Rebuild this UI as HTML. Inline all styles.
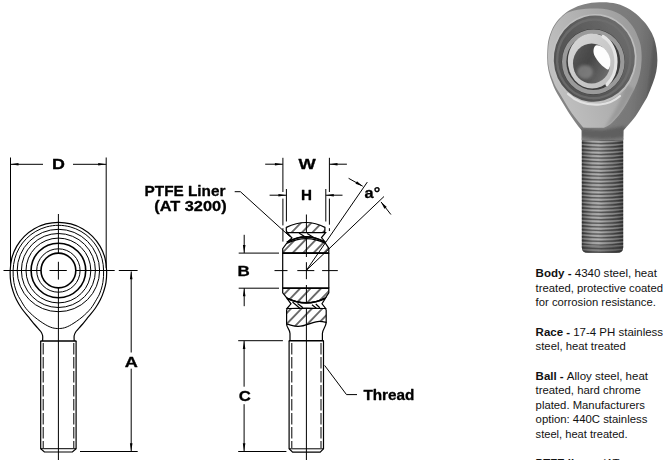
<!DOCTYPE html>
<html lang="en">
<head>
<meta charset="utf-8">
<title>Rod End Dimensions</title>
<style>
html,body{margin:0;padding:0;background:#fff;}
body{width:668px;height:460px;overflow:hidden;position:relative;font-family:"Liberation Sans",sans-serif;}
svg{position:absolute;left:0;top:0;display:block;}
.lbl{font-family:"Liberation Sans",sans-serif;font-weight:bold;font-size:14px;fill:#000;stroke:#000;stroke-width:0.3;stroke-linejoin:round;}
.spec{font-family:"Liberation Sans",sans-serif;font-size:11.4px;fill:#111;}
.spec .b{font-weight:bold;}
.t{stroke:#000;stroke-width:1;fill:none;}
.k{stroke:#000;stroke-width:1.6;fill:none;}
.m{stroke:#000;stroke-width:1.2;fill:none;}
.ar{fill:#000;stroke:none;}
.h{stroke:#000;stroke-width:0.9;fill:none;}
</style>
</head>
<body>
<svg width="668" height="460" viewBox="0 0 668 460">
<defs>
<filter id="soft" x="-5%" y="-5%" width="110%" height="110%"><feGaussianBlur stdDeviation="0.3"/></filter>
<pattern id="hat" patternUnits="userSpaceOnUse" width="7.5" height="7.5" patternTransform="rotate(-46)">
<line x1="0" y1="3.75" x2="7.5" y2="3.75" stroke="#000" stroke-width="1.1"/>
</pattern>
<pattern id="hat2" patternUnits="userSpaceOnUse" width="7" height="7" patternTransform="rotate(38)">
<line x1="0" y1="3.5" x2="7" y2="3.5" stroke="#000" stroke-width="0.9"/>
</pattern>
</defs>

<!-- ================= LEFT VIEW ================= -->
<g id="leftview" filter="url(#soft)">
<!-- D dimension -->
<path class="t" d="M10.5 157.5V268M106.2 157.5V268"/>
<path class="t" d="M10.5 164.3H43M73 164.3H106.2"/>
<path class="ar" d="M10.5 164.3l8-1.3v2.6zM106.2 164.3l-8-1.3v2.6z"/>
<!-- centre lines -->
<path class="t" d="M3.5 270.5H41M49.5 270.5H66.8M75.8 270.5H114.7M118.8 270.5H137.6"/>
<path class="t" d="M58.4 214V253M58.4 261.8V279.6M58.4 288V460"/>
<!-- circles -->
<circle class="k" cx="58.4" cy="270.5" r="17.4"/>
<circle class="t" cx="58.4" cy="270.5" r="21.7"/>
<circle class="k" cx="58.4" cy="270.5" r="27.3"/>
<circle class="t" cx="58.4" cy="270.5" r="32.4"/>
<circle class="t" cx="58.4" cy="270.5" r="37"/>
<circle class="t" cx="58.4" cy="270.5" r="41.2"/>
<!-- inner teardrop contour -->
<path class="t" d="M58.40 328.60C57.40 328.47 54.60 328.48 52.40 327.80C50.20 327.12 48.13 326.27 45.20 324.50C42.27 322.73 38.00 319.87 34.80 317.20C31.60 314.53 28.38 311.40 26.00 308.50C23.62 305.60 22.02 302.38 20.50 299.80C18.98 297.22 18.00 295.90 16.90 293.00C15.80 290.10 14.53 286.15 13.90 282.40C13.27 278.65 12.96 274.43 13.10 270.50C13.24 266.57 13.71 262.57 14.74 258.80C15.77 255.03 17.31 251.28 19.26 247.90C21.21 244.52 23.68 241.30 26.44 238.54C29.20 235.78 32.42 233.31 35.80 231.36C39.18 229.41 42.93 227.85 46.70 226.84C50.47 225.83 54.50 225.30 58.40 225.30C62.30 225.30 66.33 225.83 70.10 226.84C73.87 227.85 77.62 229.41 81.00 231.36C84.38 233.31 87.60 235.78 90.36 238.54C93.12 241.30 95.59 244.52 97.54 247.90C99.49 251.28 101.05 255.03 102.06 258.80C103.07 262.57 103.46 266.57 103.60 270.50C103.74 274.43 103.52 278.65 102.90 282.40C102.28 286.15 101.00 290.10 99.90 293.00C98.80 295.90 97.82 297.22 96.30 299.80C94.78 302.38 93.18 305.60 90.80 308.50C88.42 311.40 85.20 314.53 82.00 317.20C78.80 319.87 74.53 322.73 71.60 324.50C68.67 326.27 66.60 327.12 64.40 327.80C62.20 328.48 59.40 328.47 58.40 328.60Z"/>
<!-- outer contour -->
<path class="m" d="M42.60 341.00C42.60 340.08 42.90 337.08 42.60 335.50C42.30 333.92 41.98 333.17 40.80 331.50C39.62 329.83 37.52 327.88 35.50 325.50C33.48 323.12 31.00 320.03 28.70 317.20C26.40 314.37 23.73 311.40 21.70 308.50C19.67 305.60 17.95 302.70 16.50 299.80C15.05 296.90 13.95 294.00 13.00 291.10C12.05 288.20 11.27 285.83 10.80 282.40C10.33 278.97 10.03 274.56 10.20 270.50C10.37 266.44 10.77 262.04 11.84 258.02C12.92 254.01 14.58 250.00 16.66 246.40C18.74 242.80 21.38 239.36 24.32 236.42C27.26 233.48 30.70 230.84 34.30 228.76C37.90 226.68 41.91 225.02 45.92 223.94C49.94 222.87 54.24 222.30 58.40 222.30C62.56 222.30 66.86 222.87 70.88 223.94C74.89 225.02 78.90 226.68 82.50 228.76C86.10 230.84 89.54 233.48 92.48 236.42C95.42 239.36 98.06 242.80 100.14 246.40C102.22 250.00 103.88 254.01 104.96 258.02C106.03 262.04 106.43 266.44 106.60 270.50C106.77 274.56 106.47 278.97 106.00 282.40C105.53 285.83 104.75 288.20 103.80 291.10C102.85 294.00 101.75 296.90 100.30 299.80C98.85 302.70 97.13 305.60 95.10 308.50C93.07 311.40 90.40 314.37 88.10 317.20C85.80 320.03 83.32 323.12 81.30 325.50C79.28 327.88 77.18 329.83 76.00 331.50C74.82 333.17 74.50 333.92 74.20 335.50C73.90 337.08 74.20 340.08 74.20 341.00"/>
<!-- shank -->
<path class="k" d="M40.4 341H76.4"/>
<path class="m" d="M40.7 341V448.7L44.4 452H72.4L76.1 448.7V341"/>
<path class="t" d="M40.7 448.7H76.1"/>
<path class="t" d="M43.2 343V448M73.8 343V448" stroke-dasharray="11.5 2.5"/>
<!-- A dimension -->
<path class="t" d="M80 451.5H137.7"/>
<path class="t" d="M131.2 271.5V352.5M131.2 368.7V451"/>
<path class="ar" d="M131.2 271.2l-1.3 8h2.6zM131.2 451.3l-1.3-8h2.6z"/>
</g>

<!-- ================= SECTION VIEW ================= -->
<g id="section" filter="url(#soft)">
<!-- W / H extension lines -->
<path class="t" d="M282.9 157.8V192M282.9 198.6V225.4M282.9 228.2V241.6M329.4 157.8V192M329.4 198.6V224.7M329.4 228.2V231"/>
<path class="t" d="M286.4 189V221.5M325.8 189V221.5"/>
<path class="t" d="M265.2 164.2H282.9M329.5 164.2H346.9"/>
<path class="ar" d="M282.9 164.2l-8-1.3v2.6zM329.5 164.2l8-1.3v2.6z"/>
<path class="t" d="M269.6 195.2H286.4M325.8 195.2H342.5"/>
<path class="ar" d="M286.4 195.2l-8-1.3v2.6zM325.8 195.2l8-1.3v2.6z"/>
<!-- centre lines -->
<path class="t" d="M306.4 214.5V257M306.4 262.2V279.2M306.4 285V460"/>
<path class="t" d="M274.5 270.6H287.5M297.3 270.6H314.3M322.1 270.6H337.8"/>
<!-- angle lines -->
<path class="t" d="M306.4 270.3L367.3 182.1M306.4 270.3L384 196.5"/>
<path class="t" d="M348.6 178.3L362.7 186.2M390.9 214.5L381 201.9"/>
<path class="ar" d="M362.7 186.2L355.5 183.8L357 181.2ZM381 201.9L386.8 206.9L384.4 208.8Z"/>
<!-- B dimension -->
<path class="t" d="M238.7 253.1H279M238.7 288.2H279"/>
<path class="t" d="M244.2 234.8V253.1M244.2 288.2V306.2"/>
<path class="ar" d="M244.2 253.1l-1.3-8h2.6zM244.2 288.2l-1.3 8h2.6z"/>
<!-- PTFE leader -->
<path class="t" d="M234.7 191.7H240.4L289.8 236.5"/>
<!-- body top section -->
<path d="M286.3 227.4Q306.4 217.6 324.9 227.4V230.6Q324.9 232.6 323 232.6H288.2Q286.3 232.6 286.3 230.6Z" class="m" style="fill:url(#hat)"/>
<!-- race top -->
<path d="M287 232.6L292 238L286.8 242.4Q306.4 231.4 325.4 242.4L321.5 237.6L325.6 232.6Z" class="m" style="fill:#fff"/>
<path class="m" d="M299 233L305.7 237.2M307.2 233.4L314 237.7"/>
<path class="k" d="M286.8 242.4Q306.4 231.4 325.4 242.4"/>
<!-- ball -->
<path d="M282.7 253.1V248.6L286.6 243.5Q306.4 233.6 325.6 243.5L328.8 248.3V253.1Z" class="m" style="fill:url(#hat)"/>
<path d="M282.7 288.2V292.8L286.6 297.7Q306.4 307.8 325.6 297.7L328.8 292.8V288.2Z" class="m" style="fill:url(#hat)"/>
<path class="k" d="M282.7 253.1H328.8M282.7 288.2H328.8"/>
<path class="m" d="M282.7 253.1V288.2M328.8 253.1V288.2"/>
<!-- race bottom -->
<path d="M287 308.5L291 303.8L286.8 298.2Q306.4 307.6 325.4 298.2L322 303.8L325.6 308.5Z" class="m" style="fill:#fff"/>
<path class="k" d="M286.8 298.2Q306.4 307.6 325.4 298.2"/>
<path class="m" d="M292.5 302L299.8 308.2M297.5 303.5L303 307.8M312 304.8L316.4 308.3M315.8 304L319.8 307.8"/>
<!-- body lower section -->
<path d="M286.6 310.2Q286.6 308.5 288.5 308.5Q306.4 307.6 324.3 308.5Q326.2 308.5 326.2 310.2V322.4C322 321.4 319 321 316 321.8C309 323.6 304 326.6 298 326.4C293 326.2 290 324.6 286.6 324.2Z" class="m" style="fill:url(#hat)"/>
<!-- neck -->
<path class="m" d="M286.6 324.2C286.8 328 290 329.5 290 333.5V340.7M326.2 322.4C326 327 322.4 329.5 322.4 333.5V340.7"/>
<!-- shank -->
<path class="k" d="M288.8 340.7H323.8"/>
<path class="m" d="M289.1 340.7V448.8L292.6 452.1H320.2L323.5 448.8V340.7"/>
<path class="t" d="M289.1 448.8H323.5"/>
<path class="t" d="M291.8 343V448M321 343V448" stroke-dasharray="11.5 2.5"/>
<!-- C dimension -->
<path class="t" d="M238.2 340.7H282.9M238.2 451.5H286.4"/>
<path class="t" d="M244.1 341V386.7M244.1 404.2V451.3"/>
<path class="ar" d="M244.1 340.9l-1.3 8h2.6zM244.1 451.3l-1.3-8h2.6z"/>
<!-- Thread leader -->
<path class="t" d="M324.6 365.4L346.5 394.6H357"/>
</g>

<!-- ================= LABELS ================= -->
<g id="labels" filter="url(#soft)">
<text class="lbl" x="52.12" y="168.9" textLength="12.91" lengthAdjust="spacingAndGlyphs">D</text>
<text class="lbl" x="124.74" y="366.9" textLength="13.12" lengthAdjust="spacingAndGlyphs">A</text>
<text class="lbl" x="298.58" y="169.2" textLength="17.22" lengthAdjust="spacingAndGlyphs">W</text>
<text class="lbl" x="301.00" y="199.9" textLength="11.00" lengthAdjust="spacingAndGlyphs">H</text>
<text class="lbl" x="237.6" y="275.5" textLength="12.3" lengthAdjust="spacingAndGlyphs">B</text>
<text class="lbl" x="238.76" y="400.9" textLength="12.05" lengthAdjust="spacingAndGlyphs">C</text>
<text class="lbl" x="364.6" y="198.4" textLength="15.6" lengthAdjust="spacingAndGlyphs" style="font-size:14.8px">a°</text>
<text class="lbl" x="144.60" y="195.6" textLength="80.80" lengthAdjust="spacingAndGlyphs">PTFE Liner</text>
<text class="lbl" x="154.20" y="210.7" textLength="72.42" lengthAdjust="spacingAndGlyphs">(AT 3200)</text>
<text class="lbl" x="363.40" y="399.9" textLength="51.02" lengthAdjust="spacingAndGlyphs">Thread</text>
</g>

<!-- ================= SPEC TEXT ================= -->
<g id="spec" class="spec">
<text x="535.6" y="277.2" textLength="121.3" lengthAdjust="spacingAndGlyphs"><tspan class="b">Body - </tspan>4340 steel, heat</text>
<text x="535.6" y="291.5" textLength="127.4" lengthAdjust="spacingAndGlyphs">treated, protective coated</text>
<text x="535.6" y="305.8" textLength="120.3" lengthAdjust="spacingAndGlyphs">for corrosion resistance.</text>
<text x="535.6" y="335.7" textLength="127.5" lengthAdjust="spacingAndGlyphs"><tspan class="b">Race - </tspan>17-4 PH stainless</text>
<text x="535.6" y="349.7" textLength="90.3" lengthAdjust="spacingAndGlyphs">steel, heat treated</text>
<text x="535.6" y="379.9" textLength="112.4" lengthAdjust="spacingAndGlyphs"><tspan class="b">Ball - </tspan>Alloy steel, heat</text>
<text x="535.6" y="394.2" textLength="105.2" lengthAdjust="spacingAndGlyphs">treated, hard chrome</text>
<text x="535.6" y="408.6" textLength="109.3" lengthAdjust="spacingAndGlyphs">plated. Manufacturers</text>
<text x="535.6" y="423" textLength="111.8" lengthAdjust="spacingAndGlyphs">option: 440C stainless</text>
<text x="535.6" y="437.5" textLength="92.0" lengthAdjust="spacingAndGlyphs">steel, heat treated.</text>
<text x="535.6" y="467"><tspan class="b">PTFE liner - </tspan>(AT</text>
<text x="535.6" y="481.9">3200)</text>
</g>

<!-- ================= PHOTO ================= -->
<g id="photo">
<defs>
<filter id="pblur" x="-5%" y="-5%" width="110%" height="110%"><feGaussianBlur stdDeviation="0.6"/></filter>
<filter id="pblur2" x="-20%" y="-20%" width="140%" height="140%"><feGaussianBlur stdDeviation="1.6"/></filter>
<linearGradient id="gShank" x1="0" y1="0" x2="1" y2="0">
<stop offset="0" stop-color="#3e3e3e"/><stop offset="0.07" stop-color="#606060"/><stop offset="0.26" stop-color="#929292"/><stop offset="0.4" stop-color="#9c9c9c"/><stop offset="0.6" stop-color="#7c7c7c"/><stop offset="0.85" stop-color="#5a5a5a"/><stop offset="1" stop-color="#3a3a3a"/>
</linearGradient>
<linearGradient id="gSide" x1="0" y1="0" x2="1" y2="0.15">
<stop offset="0" stop-color="#888888"/><stop offset="0.5" stop-color="#808080"/><stop offset="0.85" stop-color="#787878"/><stop offset="0.97" stop-color="#6a6a6a"/><stop offset="1" stop-color="#5a5a5a"/>
</linearGradient>
<linearGradient id="gFace" x1="0" y1="0.6" x2="1" y2="0.2">
<stop offset="0" stop-color="#c2c2c2"/><stop offset="0.45" stop-color="#b1b1b1"/><stop offset="1" stop-color="#9a9a9a"/>
</linearGradient>
<linearGradient id="gRace" x1="0" y1="1" x2="1" y2="0">
<stop offset="0" stop-color="#4c4c4c"/><stop offset="0.5" stop-color="#5a5a5a"/><stop offset="1" stop-color="#747474"/>
</linearGradient>
<linearGradient id="gBall" x1="0" y1="0" x2="1" y2="1">
<stop offset="0" stop-color="#d8d8d8"/><stop offset="0.5" stop-color="#cacaca"/><stop offset="1" stop-color="#bcbcbc"/>
</linearGradient>
<linearGradient id="gBore" x1="0" y1="0" x2="1" y2="0.6">
<stop offset="0" stop-color="#5c5c5c"/><stop offset="0.5" stop-color="#464646"/><stop offset="1" stop-color="#6a6a6a"/>
</linearGradient>
<clipPath id="cShank"><path d="M581.8 126H623.2V247Q623.2 253 617 253H588Q581.8 253 581.8 247Z"/></clipPath>
<clipPath id="cSil"><path d="M603.2 2.3C608 2.3 612 2.8 616.6 3.8C621.5 5 626 7 630 9.6C634.5 12.4 638.3 15.6 641.6 19.2C644.8 22 647.2 25.2 649.2 28.7C651.2 31.6 652.8 34.8 654 38.3C656 44 657.4 52 657.4 60C657.4 68 655.8 76 652.7 83.5C650.8 88.5 649 93 647 97.4L638.8 111.3C635 118 629 124.5 623.4 130.5L623.2 140H581.8V130.5C577 125 572.5 118.5 567.8 111.3L559.5 97.4C556 92 554 88 552.5 83.5C549 75 547 66 547.2 58C547.2 52 547.4 47 548 42.2C548.8 38 550 34.2 551.5 30.7C553 27.2 555 24 557.2 21.1C559.4 18.2 562 15.7 564.9 13.4C567.8 11 571 9.2 574.5 7.7C578.6 5.6 583 4.2 587.9 3.4C592.7 2.6 598 2.3 603.2 2.3Z"/></clipPath>
<clipPath id="cRecess"><ellipse cx="594.3" cy="58.6" rx="40.5" ry="43.2" transform="rotate(8 594.3 58.6)"/></clipPath>
</defs>
<g filter="url(#pblur)">
<path d="M581.8 126H623.2V247Q623.2 253 617 253H588Q581.8 253 581.8 247Z" fill="url(#gShank)"/>
<g clip-path="url(#cShank)">
<path d="M581 139.0Q602.5 141.2 624 138.7" stroke="#1e1e1e" stroke-opacity="0.5" stroke-width="1.2" fill="none"/>
<path d="M581 140.8Q602.5 143.0 624 140.5" stroke="#eeeeee" stroke-opacity="0.28" stroke-width="1.1" fill="none"/>
<path d="M581 142.6Q602.5 144.8 624 142.3" stroke="#1e1e1e" stroke-opacity="0.5" stroke-width="1.2" fill="none"/>
<path d="M581 144.4Q602.5 146.6 624 144.1" stroke="#eeeeee" stroke-opacity="0.28" stroke-width="1.1" fill="none"/>
<path d="M581 146.2Q602.5 148.4 624 145.9" stroke="#1e1e1e" stroke-opacity="0.5" stroke-width="1.2" fill="none"/>
<path d="M581 148.0Q602.5 150.2 624 147.7" stroke="#eeeeee" stroke-opacity="0.28" stroke-width="1.1" fill="none"/>
<path d="M581 149.9Q602.5 152.1 624 149.6" stroke="#1e1e1e" stroke-opacity="0.5" stroke-width="1.2" fill="none"/>
<path d="M581 151.7Q602.5 153.9 624 151.4" stroke="#eeeeee" stroke-opacity="0.28" stroke-width="1.1" fill="none"/>
<path d="M581 153.5Q602.5 155.7 624 153.2" stroke="#1e1e1e" stroke-opacity="0.5" stroke-width="1.2" fill="none"/>
<path d="M581 155.3Q602.5 157.5 624 155.0" stroke="#eeeeee" stroke-opacity="0.28" stroke-width="1.1" fill="none"/>
<path d="M581 157.1Q602.5 159.3 624 156.8" stroke="#1e1e1e" stroke-opacity="0.5" stroke-width="1.2" fill="none"/>
<path d="M581 158.9Q602.5 161.1 624 158.6" stroke="#eeeeee" stroke-opacity="0.28" stroke-width="1.1" fill="none"/>
<path d="M581 160.7Q602.5 162.9 624 160.4" stroke="#1e1e1e" stroke-opacity="0.5" stroke-width="1.2" fill="none"/>
<path d="M581 162.5Q602.5 164.7 624 162.2" stroke="#eeeeee" stroke-opacity="0.28" stroke-width="1.1" fill="none"/>
<path d="M581 164.3Q602.5 166.5 624 164.0" stroke="#1e1e1e" stroke-opacity="0.5" stroke-width="1.2" fill="none"/>
<path d="M581 166.1Q602.5 168.3 624 165.8" stroke="#eeeeee" stroke-opacity="0.28" stroke-width="1.1" fill="none"/>
<path d="M581 168.0Q602.5 170.2 624 167.7" stroke="#1e1e1e" stroke-opacity="0.5" stroke-width="1.2" fill="none"/>
<path d="M581 169.8Q602.5 172.0 624 169.5" stroke="#eeeeee" stroke-opacity="0.28" stroke-width="1.1" fill="none"/>
<path d="M581 171.6Q602.5 173.8 624 171.3" stroke="#1e1e1e" stroke-opacity="0.5" stroke-width="1.2" fill="none"/>
<path d="M581 173.4Q602.5 175.6 624 173.1" stroke="#eeeeee" stroke-opacity="0.28" stroke-width="1.1" fill="none"/>
<path d="M581 175.2Q602.5 177.4 624 174.9" stroke="#1e1e1e" stroke-opacity="0.5" stroke-width="1.2" fill="none"/>
<path d="M581 177.0Q602.5 179.2 624 176.7" stroke="#eeeeee" stroke-opacity="0.28" stroke-width="1.1" fill="none"/>
<path d="M581 178.8Q602.5 181.0 624 178.5" stroke="#1e1e1e" stroke-opacity="0.5" stroke-width="1.2" fill="none"/>
<path d="M581 180.6Q602.5 182.8 624 180.3" stroke="#eeeeee" stroke-opacity="0.28" stroke-width="1.1" fill="none"/>
<path d="M581 182.4Q602.5 184.6 624 182.1" stroke="#1e1e1e" stroke-opacity="0.5" stroke-width="1.2" fill="none"/>
<path d="M581 184.2Q602.5 186.4 624 183.9" stroke="#eeeeee" stroke-opacity="0.28" stroke-width="1.1" fill="none"/>
<path d="M581 186.1Q602.5 188.3 624 185.8" stroke="#1e1e1e" stroke-opacity="0.5" stroke-width="1.2" fill="none"/>
<path d="M581 187.9Q602.5 190.1 624 187.6" stroke="#eeeeee" stroke-opacity="0.28" stroke-width="1.1" fill="none"/>
<path d="M581 189.7Q602.5 191.9 624 189.4" stroke="#1e1e1e" stroke-opacity="0.5" stroke-width="1.2" fill="none"/>
<path d="M581 191.5Q602.5 193.7 624 191.2" stroke="#eeeeee" stroke-opacity="0.28" stroke-width="1.1" fill="none"/>
<path d="M581 193.3Q602.5 195.5 624 193.0" stroke="#1e1e1e" stroke-opacity="0.5" stroke-width="1.2" fill="none"/>
<path d="M581 195.1Q602.5 197.3 624 194.8" stroke="#eeeeee" stroke-opacity="0.28" stroke-width="1.1" fill="none"/>
<path d="M581 196.9Q602.5 199.1 624 196.6" stroke="#1e1e1e" stroke-opacity="0.5" stroke-width="1.2" fill="none"/>
<path d="M581 198.7Q602.5 200.9 624 198.4" stroke="#eeeeee" stroke-opacity="0.28" stroke-width="1.1" fill="none"/>
<path d="M581 200.5Q602.5 202.7 624 200.2" stroke="#1e1e1e" stroke-opacity="0.5" stroke-width="1.2" fill="none"/>
<path d="M581 202.3Q602.5 204.5 624 202.0" stroke="#eeeeee" stroke-opacity="0.28" stroke-width="1.1" fill="none"/>
<path d="M581 204.2Q602.5 206.4 624 203.9" stroke="#1e1e1e" stroke-opacity="0.5" stroke-width="1.2" fill="none"/>
<path d="M581 206.0Q602.5 208.2 624 205.7" stroke="#eeeeee" stroke-opacity="0.28" stroke-width="1.1" fill="none"/>
<path d="M581 207.8Q602.5 210.0 624 207.5" stroke="#1e1e1e" stroke-opacity="0.5" stroke-width="1.2" fill="none"/>
<path d="M581 209.6Q602.5 211.8 624 209.3" stroke="#eeeeee" stroke-opacity="0.28" stroke-width="1.1" fill="none"/>
<path d="M581 211.4Q602.5 213.6 624 211.1" stroke="#1e1e1e" stroke-opacity="0.5" stroke-width="1.2" fill="none"/>
<path d="M581 213.2Q602.5 215.4 624 212.9" stroke="#eeeeee" stroke-opacity="0.28" stroke-width="1.1" fill="none"/>
<path d="M581 215.0Q602.5 217.2 624 214.7" stroke="#1e1e1e" stroke-opacity="0.5" stroke-width="1.2" fill="none"/>
<path d="M581 216.8Q602.5 219.0 624 216.5" stroke="#eeeeee" stroke-opacity="0.28" stroke-width="1.1" fill="none"/>
<path d="M581 218.6Q602.5 220.8 624 218.3" stroke="#1e1e1e" stroke-opacity="0.5" stroke-width="1.2" fill="none"/>
<path d="M581 220.4Q602.5 222.6 624 220.1" stroke="#eeeeee" stroke-opacity="0.28" stroke-width="1.1" fill="none"/>
<path d="M581 222.3Q602.5 224.5 624 222.0" stroke="#1e1e1e" stroke-opacity="0.5" stroke-width="1.2" fill="none"/>
<path d="M581 224.1Q602.5 226.3 624 223.8" stroke="#eeeeee" stroke-opacity="0.28" stroke-width="1.1" fill="none"/>
<path d="M581 225.9Q602.5 228.1 624 225.6" stroke="#1e1e1e" stroke-opacity="0.5" stroke-width="1.2" fill="none"/>
<path d="M581 227.7Q602.5 229.9 624 227.4" stroke="#eeeeee" stroke-opacity="0.28" stroke-width="1.1" fill="none"/>
<path d="M581 229.5Q602.5 231.7 624 229.2" stroke="#1e1e1e" stroke-opacity="0.5" stroke-width="1.2" fill="none"/>
<path d="M581 231.3Q602.5 233.5 624 231.0" stroke="#eeeeee" stroke-opacity="0.28" stroke-width="1.1" fill="none"/>
<path d="M581 233.1Q602.5 235.3 624 232.8" stroke="#1e1e1e" stroke-opacity="0.5" stroke-width="1.2" fill="none"/>
<path d="M581 234.9Q602.5 237.1 624 234.6" stroke="#eeeeee" stroke-opacity="0.28" stroke-width="1.1" fill="none"/>
<path d="M581 236.7Q602.5 238.9 624 236.4" stroke="#1e1e1e" stroke-opacity="0.5" stroke-width="1.2" fill="none"/>
<path d="M581 238.5Q602.5 240.7 624 238.2" stroke="#eeeeee" stroke-opacity="0.28" stroke-width="1.1" fill="none"/>
<path d="M581 240.4Q602.5 242.6 624 240.1" stroke="#1e1e1e" stroke-opacity="0.5" stroke-width="1.2" fill="none"/>
<path d="M581 242.2Q602.5 244.4 624 241.9" stroke="#eeeeee" stroke-opacity="0.28" stroke-width="1.1" fill="none"/>
<path d="M581 244.0Q602.5 246.2 624 243.7" stroke="#1e1e1e" stroke-opacity="0.5" stroke-width="1.2" fill="none"/>
<path d="M581 245.8Q602.5 248.0 624 245.5" stroke="#eeeeee" stroke-opacity="0.28" stroke-width="1.1" fill="none"/>
<path d="M581 247.6Q602.5 249.8 624 247.3" stroke="#1e1e1e" stroke-opacity="0.5" stroke-width="1.2" fill="none"/>
<path d="M581 249.4Q602.5 251.6 624 249.1" stroke="#eeeeee" stroke-opacity="0.28" stroke-width="1.1" fill="none"/>
<path d="M581 251.2Q602.5 253.4 624 250.9" stroke="#1e1e1e" stroke-opacity="0.5" stroke-width="1.2" fill="none"/>
<path d="M581 253.0Q602.5 255.2 624 252.7" stroke="#eeeeee" stroke-opacity="0.28" stroke-width="1.1" fill="none"/>
<rect x="580" y="246" width="46" height="8" fill="#333" fill-opacity="0.35"/>
</g>
<path d="M603.2 2.3C608 2.3 612 2.8 616.6 3.8C621.5 5 626 7 630 9.6C634.5 12.4 638.3 15.6 641.6 19.2C644.8 22 647.2 25.2 649.2 28.7C651.2 31.6 652.8 34.8 654 38.3C656 44 657.4 52 657.4 60C657.4 68 655.8 76 652.7 83.5C650.8 88.5 649 93 647 97.4L638.8 111.3C635 118 629 124.5 623.4 130.5L623.2 140H581.8V130.5C577 125 572.5 118.5 567.8 111.3L559.5 97.4C556 92 554 88 552.5 83.5C549 75 547 66 547.2 58C547.2 52 547.4 47 548 42.2C548.8 38 550 34.2 551.5 30.7C553 27.2 555 24 557.2 21.1C559.4 18.2 562 15.7 564.9 13.4C567.8 11 571 9.2 574.5 7.7C578.6 5.6 583 4.2 587.9 3.4C592.7 2.6 598 2.3 603.2 2.3Z" fill="url(#gSide)"/>
<g clip-path="url(#cSil)"><path d="M580 128L602 130L625 126L625 137Q602.5 141 580 137Z" fill="#444" fill-opacity="0.5" filter="url(#pblur2)"/></g>
<path d="M597.5 8.6C604.5 8.6 611 10 616.6 12.5C622 15 626.5 18.6 630 23C633.4 27 636 31.5 637.7 36.4C639 39.2 640 42 640.6 45C641.5 50 641.8 55 641.6 60C641.4 70 639 80 634.5 89L627 103C622 112 615.5 120 610 124.5C606.5 127 604.5 127.8 602 127.8C595 127.8 588.5 127.6 583.2 127.4C578 121.5 572.8 115 568.4 108L560.1 94C556.6 88.5 554.4 85 553 80.5C549.6 73 547.9 66 548 58C548 52 548.2 47 548.8 42.4C549.6 38.4 550.7 34.6 552.2 31.1C553.7 27.6 555.6 24.4 557.8 21.6C560 18.8 562.5 16.4 565.3 14.1C572 9.8 584 8.4 597.5 8.6Z" fill="url(#gFace)"/>
<path d="M634.5 89L626 104C620.5 113.5 612 123.5 603.5 129.8C612 116 622 100 626 84Z" fill="#888" fill-opacity="0.55" filter="url(#pblur2)"/>
<ellipse cx="594.3" cy="58.9" rx="42.2" ry="45" transform="rotate(8 594.3 58.9)" fill="#c2c2c2" fill-opacity="0.85"/>
<path d="M568 94C576 101.5 588 105.5 600 104.5C608 103.8 615 100.5 620 96" fill="none" stroke="#e2e2e2" stroke-width="2.2" stroke-linecap="round"/>
<ellipse cx="594.3" cy="58.6" rx="40.5" ry="43.2" transform="rotate(8 594.3 58.6)" fill="url(#gRace)"/>
<g clip-path="url(#cRecess)">
<ellipse cx="593.8" cy="58.9" rx="36.6" ry="39.4" transform="rotate(8 593.8 58.9)" fill="none" stroke="#6f6f6f" stroke-width="2.4" stroke-opacity="0.8"/>
<ellipse cx="593.3" cy="61.85" rx="31.6" ry="32.8" fill="#3a3a3a"/>
<ellipse cx="593.3" cy="61.85" rx="29.15" ry="30.25" fill="#3c3c3c" stroke="#9a9a9a" stroke-width="4.3"/>
</g>
<ellipse cx="592.2" cy="61" rx="24.4" ry="27.6" fill="url(#gBall)"/>
<path d="M603 36.5C611 41 616 51 616 62C616 71 612.5 79 607 84.5" fill="none" stroke="#e4e4e4" stroke-width="3.2" stroke-linecap="round"/>
<ellipse cx="591.6" cy="63.5" rx="18.6" ry="20" fill="url(#gBore)"/>
<ellipse cx="585" cy="72" rx="8" ry="7" fill="#8c8c8c" fill-opacity="0.7" filter="url(#pblur2)"/>
<path d="M595.7 45.4C601 44.3 607 49.5 609.6 57C611.2 62 610.6 67 608 69.8C603 67.5 597 61 594.2 55C592.8 51 593.5 47 595.7 45.4Z" fill="#fdfdfd"/>
</g>
</g>
</svg>
</body>
</html>
